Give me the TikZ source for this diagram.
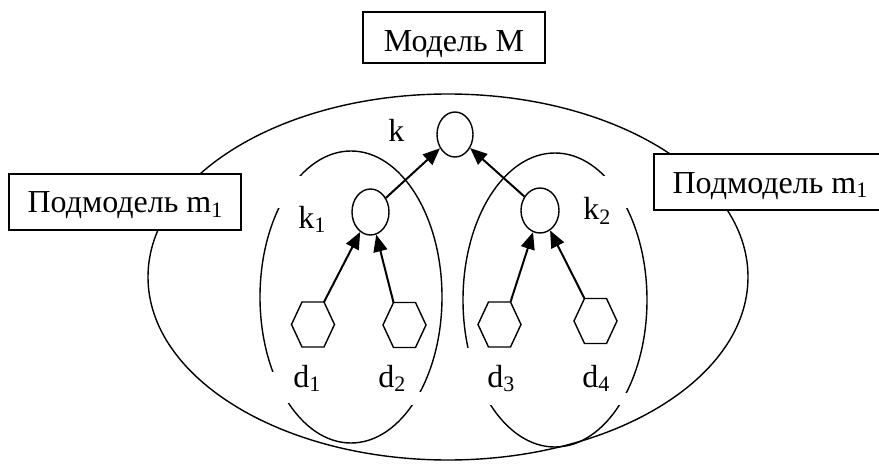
\documentclass[tikz,border=0pt]{standalone}
\usepackage{fontspec}
\setmainfont{Liberation Serif}
\usetikzlibrary{arrows.meta,shapes.geometric}
\newcommand\lsub[1]{\raisebox{-0.14em}{\fontsize{11}{13}\selectfont #1}}
\newcommand\hexagonat[3]{%
  \draw[hexline,shift={(#2,#3)}] (-21.5,0) -- (-11,-22.5) -- (11,-22.5) -- (21.5,0) -- (11,22.5) -- (-11,22.5) -- cycle;
  \path[shift={(#2,#3)}] (0,0) coordinate (#1) (-11,-22.5) coordinate (#1-tl) (11,-22.5) coordinate (#1-tr);}
\tikzset{
  oval/.style={line width=0.7pt},
  hexline/.style={line width=0.7pt},
  labelbox/.style={draw,line width=0.8pt,fill=white,inner sep=0pt,font=\fontsize{16}{19}\selectfont},
  knode/.style={draw,ellipse,line width=0.7pt,fill=white,inner sep=0pt},
  lbl/.style={anchor=base west,inner sep=0pt,font=\fontsize{16}{19}\selectfont},
  arr/.style={line width=1pt,-{Triangle[length=8.5pt,width=7pt]}}
}
\begin{document}
\begin{tikzpicture}[x=0.5pt,y=-0.5pt]
\useasboundingbox (0,0) rectangle (879,465);
\clip (0,0) rectangle (879,465);
% ovals
\draw[oval] (448,277) ellipse [x radius=150pt, y radius=91.5pt];
\draw[oval] (351,297) ellipse [x radius=45.5pt, y radius=73pt];
\draw[oval] (555,300) ellipse [x radius=46pt, y radius=73.5pt];
% white areas behind the labels
\fill[white] (276,176) rectangle (336,208);
\fill[white] (565,176) rectangle (630,208);
\fill[white] (265,372) rectangle (335,403);
\fill[white] (375,392) rectangle (425,405);
\fill[white] (462,348) rectangle (525,405);
\fill[white] (570,393) rectangle (630,405);
% boxes
\node[labelbox,minimum width=91pt,minimum height=25.5pt,text height=14.5pt,text depth=0pt] (M) at (454,37.5) {Модель М};
\node[labelbox,minimum width=116pt,minimum height=28pt,text height=11pt,text depth=0pt] (mL) at (125,202) {Подмодель m\lsub{1}};
\node[labelbox,minimum width=116pt,minimum height=28pt,text height=11pt,text depth=0pt] (mR) at (770,182) {Подмодель m\lsub{1}};
% circles
\node[knode,minimum width=18pt,minimum height=22.5pt] (k) at (455,134.5) {};
\node[knode,minimum width=18.5pt,minimum height=23pt] (k1) at (370.5,212) {};
\node[knode,minimum width=19pt,minimum height=22.5pt] (k2) at (540,210.5) {};
% hexagons
\hexagonat{d1}{313}{324.5}
\hexagonat{d2}{404.5}{325}
\hexagonat{d3}{499.5}{324.5}
\hexagonat{d4}{595.5}{321}
% arrows
\draw[arr] (d1-tr) -- (k1);
\draw[arr] (d2-tl) -- (k1);
\draw[arr] (d3-tr) -- (k2);
\draw[arr] (d4-tl) -- (k2);
\draw[arr] (k1) -- (k);
\draw[arr] (k2) -- (k);
% labels
\node[lbl] (lk) at (388,142) {k};
\node[lbl] (lk1) at (298,228) {k\lsub{1}};
\node[lbl] (lk2) at (583,220) {k\lsub{2}};
\node[lbl] (ld1) at (293,387) {d\lsub{1}};
\node[lbl] (ld2) at (378,387) {d\lsub{2}};
\node[lbl] (ld3) at (487,387) {d\lsub{3}};
\node[lbl] (ld4) at (582,387) {d\lsub{4}};
\end{tikzpicture}
\end{document}
